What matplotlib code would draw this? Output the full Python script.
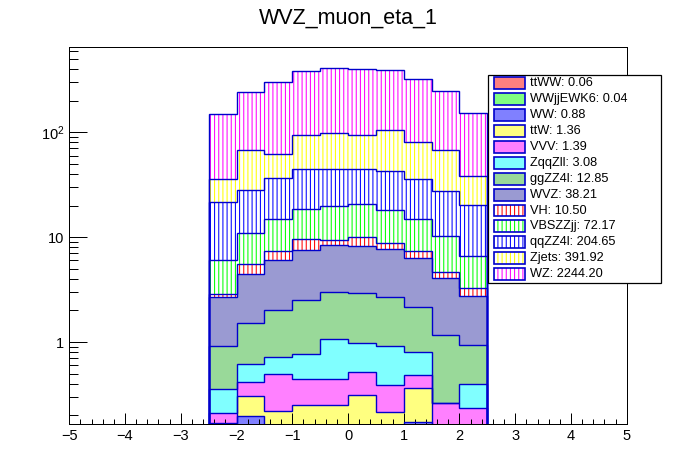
import numpy as np
import matplotlib
matplotlib.use("Agg")
import matplotlib.pyplot as plt
from matplotlib.patches import Rectangle
from matplotlib.ticker import FixedLocator, MultipleLocator, NullFormatter, FixedFormatter

plt.rcParams['font.family'] = ['Liberation Sans', 'DejaVu Sans']
plt.rcParams['mathtext.fontset'] = 'custom'
plt.rcParams['mathtext.rm'] = 'Liberation Sans'
plt.rcParams['mathtext.it'] = 'Liberation Sans:italic'
plt.rcParams['hatch.linewidth'] = 0.75

# ---------------- data ----------------
title = "WVZ_muon_eta_1"
bin_edges = [-2.5, -2.0, -1.5, -1.0, -0.5, 0.0, 0.5, 1.0, 1.5, 2.0, 2.5]

# stacking order: bottom -> top (same as legend order)
process_names = ["ttWW", "WWjjEWK6", "WW", "ttW", "VVV", "ZqqZll", "ggZZ4l",
                 "WVZ", "VH", "VBSZZjj", "qqZZ4l", "Zjets", "WZ"]
process_totals = [0.06, 0.04, 0.88, 1.36, 1.39, 3.08, 12.85,
                  38.21, 10.50, 72.17, 204.65, 391.92, 2244.20]

ttWW = [0.005, 0.005, 0.01, 0.005, 0.01, 0.005, 0.005, 0.01, 0.0, 0.005]
WWjjEWK6 = [0.0, 0.005, 0.005, 0.005, 0.005, 0.005, 0.005, 0.005, 0.005, 0.0]
WW = [0.05, 0.187, 0.08, 0.07, 0.08, 0.07, 0.06, 0.158, 0.06, 0.065]
ttW = [0.113, 0.109, 0.125, 0.171, 0.156, 0.233, 0.146, 0.192, 0.06, 0.055]
VVV = [0.043, 0.110, 0.276, 0.193, 0.193, 0.205, 0.173, 0.120, 0.137, 0.110]
ZqqZll = [0.146, 0.201, 0.224, 0.325, 0.624, 0.46, 0.527, 0.318, 0.0, 0.163]
ggZZ4l = [0.559, 0.90, 1.30, 1.74, 1.92, 1.95, 1.76, 1.35, 0.904, 0.538]
WVZ = [1.76, 2.92, 4.02, 5.01, 5.40, 5.28, 5.01, 4.16, 2.90, 1.80]
VH = [0.18, 1.09, 1.32, 2.05, 0.97, 1.79, 1.08, 1.05, 0.57, 0.53]
VBSZZjj = [3.18, 5.37, 7.44, 9.13, 10.34, 10.6, 9.33, 7.44, 5.56, 3.33]
qqZZ4l = [15.5, 17.1, 21.9, 25.7, 24.7, 23.8, 24.4, 20.9, 17.2, 13.7]
Zjets = [14.2, 39.4, 25.0, 49.2, 53.4, 49.2, 62.0, 44.6, 40.0, 17.8]
WZ = [112.7, 173.0, 237.3, 287.4, 309.2, 307.4, 284.5, 239.7, 178.3, 114.6]

process_values = [ttWW, WWjjEWK6, WW, ttW, VVV, ZqqZll, ggZZ4l,
                  WVZ, VH, VBSZZjj, qqZZ4l, Zjets, WZ]

# ---------------- styles ----------------
# (colour, 'solid' = checker-like fine fill, 'hatch' = vertical lines)
styles = [
    ('#ff8080', 'solid'),
    ('#80ff80', 'solid'),
    ('#8080ff', 'solid'),
    ('#ffff80', 'solid'),
    ('#ff80ff', 'solid'),
    ('#80ffff', 'solid'),
    ('#99d999', 'solid'),
    ('#9a9ad2', 'solid'),
    ('#ff0000', 'hatch'),
    ('#00ff00', 'hatch'),
    ('#0000ff', 'hatch'),
    ('#ffff00', 'hatch'),
    ('#ff00ff', 'hatch'),
]
line_col = '#0000cc'
HATCH = '||||'

W, H = 696, 472
fig = plt.figure(figsize=(W / 100, H / 100), dpi=100)
ax = fig.add_axes([69.3 / W, 1 - 423.7 / H, (626.7 - 69.3) / W, (423.7 - 47.3) / H])
ax.set_yscale('log')
ymin, ymax = 0.1667, 645.0

edges = np.array(bin_edges)
cum = np.zeros(len(bin_edges) - 1)
tops = []
for vals, (col, st) in zip(process_values, styles):
    top = cum + np.array(vals)
    base = np.maximum(cum, 1e-3)
    if st == 'solid':
        ax.stairs(np.maximum(top, 1e-3), edges, baseline=base, fill=True,
                  facecolor=col, edgecolor='none', linewidth=0, zorder=1)
    else:
        ax.stairs(np.maximum(top, 1e-3), edges, baseline=base, fill=True,
                  facecolor='white', edgecolor=col, hatch=HATCH, linewidth=0, zorder=1)
    tops.append(top)
    cum = top

for top in tops:
    ax.stairs(np.maximum(top, 1e-3), edges, baseline=1e-3, fill=False,
              color=line_col, linewidth=1.0, zorder=2)

ax.set_xlim(-5, 5)
ax.set_ylim(ymin, ymax)

ax.xaxis.set_major_locator(MultipleLocator(1))
ax.xaxis.set_minor_locator(MultipleLocator(0.2))
ax.yaxis.set_major_locator(FixedLocator([1, 10, 100]))
ax.yaxis.set_major_formatter(FixedFormatter(['1', '10', r'$10^{2}$']))
minors = [m * 10.0 ** e for e in (-1, 0, 1, 2) for m in range(2, 10)]
ax.yaxis.set_minor_locator(FixedLocator(minors))
ax.yaxis.set_minor_formatter(NullFormatter())

ax.tick_params(which='both', direction='in', top=False, right=False, color='black', width=0.72)
ax.tick_params(axis='y', which='major', length=12.7, labelsize=10.5, pad=3.6)
ax.tick_params(axis='y', which='minor', length=6.3)
ax.tick_params(axis='x', which='major', length=7.7, labelsize=10.5, pad=4.0)
ax.tick_params(axis='x', which='minor', length=3.8)
for sp in ax.spines.values():
    sp.set_linewidth(0.72)
    sp.set_color('black')

fig.text(0.5, 1 - 24 / H, title, ha='center', va='baseline', fontsize=15.5)

# ---------------- legend ----------------
def fx(x):
    return x / W

def fy(y):
    return 1 - y / H

lx0, lx1, ly0, ly1 = 488, 661, 75, 283
fig.add_artist(Rectangle((fx(lx0), fy(ly1)), fx(lx1) - fx(lx0), fy(ly0) - fy(ly1),
                         transform=fig.transFigure, facecolor='white',
                         edgecolor='black', linewidth=0.9, zorder=5))
row0, pitch = 83.3, 15.9
for i, (name, tot, (col, st)) in enumerate(zip(process_names, process_totals, styles)):
    yc = row0 + i * pitch
    sx0, sx1 = 493.5, 524.5
    sy0, sy1 = yc - 6, yc + 6
    if st == 'solid':
        fig.add_artist(Rectangle((fx(sx0), fy(sy1)), fx(sx1) - fx(sx0), fy(sy0) - fy(sy1),
                                 transform=fig.transFigure, facecolor=col,
                                 edgecolor='none', linewidth=0, zorder=6))
    else:
        fig.add_artist(Rectangle((fx(sx0), fy(sy1)), fx(sx1) - fx(sx0), fy(sy0) - fy(sy1),
                                 transform=fig.transFigure, facecolor='white',
                                 edgecolor=col, hatch=HATCH, linewidth=0, zorder=6))
    fig.add_artist(Rectangle((fx(sx0), fy(sy1)), fx(sx1) - fx(sx0), fy(sy0) - fy(sy1),
                             transform=fig.transFigure, facecolor='none',
                             edgecolor=line_col, linewidth=1.2, zorder=7))
    fig.text(fx(530), fy(yc), f"{name}: {tot:.2f}", ha='left', va='center',
             fontsize=9.2, zorder=8)

fig.savefig('out.png', dpi=100)
